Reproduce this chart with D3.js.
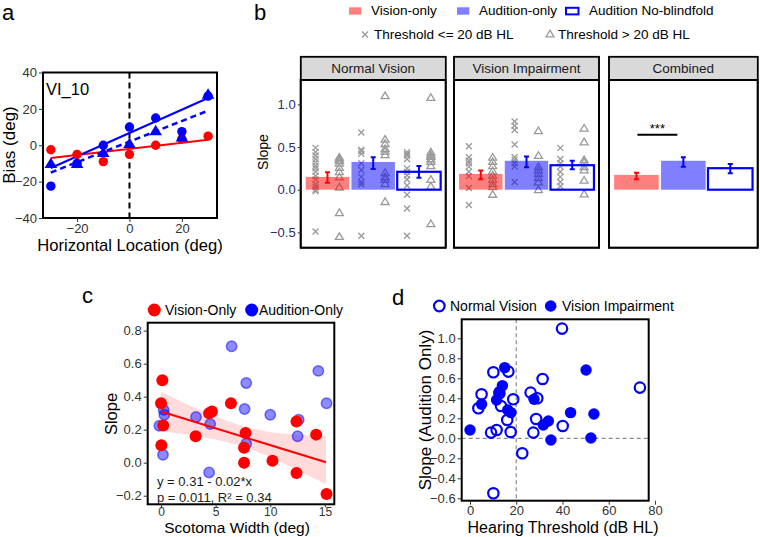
<!DOCTYPE html>
<html><head><meta charset="utf-8">
<script src="https://cdn.jsdelivr.net/npm/d3@7"></script>
<style>
body{margin:0;background:#fff;}
svg{font-family:"Liberation Sans",Arial,sans-serif;display:block;}
</style></head><body>
<svg id="chart" width="760" height="537"></svg>
<script>
// ---------------- Panel a data ----------------
const aLocations = [-30, -20, -10, 0, 10, 20, 30];
const aVisionBias = [-2.5, -5, -9, -5, 0, 3.5, 5];
const aAuditionBias = [-22.5, -10, 0, 10, 15, 7.5, 27];
const aNoBlindfoldBias = [-10, -10, -4, 1, 8, 4.5, 28];
const aFitEnds = [-30, 30];
const aVisionFit = [-7, 3];
const aAuditionFit = [-12.5, 26];
const aNoBlindfoldFit = [-15, 19];
const aXTicks = [-20, 0, 20];
const aYTicks = [-40, -20, 0, 20, 40];

// ---------------- Panel b data ----------------
const bFacets = ["Normal Vision", "Vision Impairment", "Combined"];
const bConditions = ["Vision-only", "Audition-only", "Audition No-blindfold"];
const bYTicks = [-0.5, 0, 0.5, 1.0];
const nvMeans = [0.15, 0.325, 0.21];
const nvErrLow = [0.082, 0.243, 0.14];
const nvErrHigh = [0.204, 0.38, 0.278];
const viMeans = [0.185, 0.339, 0.287];
const viErrLow = [0.122, 0.264, 0.24];
const viErrHigh = [0.224, 0.39, 0.339];
const cbMeans = [0.173, 0.339, 0.252];
const cbErrLow = [0.122, 0.27, 0.193];
const cbErrHigh = [0.2, 0.38, 0.3];
// individual slopes: "Low" = threshold <= 20 dB HL (crosses), "High" = > 20 dB HL (triangles)
const nvVisionLow = [0.49, 0.44, 0.40, 0.36, 0.32, 0.28, 0.25, 0.21, 0.16, 0.12, 0.06, 0.03, 0.0, -0.02, -0.49];
const nvVisionHigh = [0.38, 0.36, 0.34, 0.31, 0.26, 0.21, 0.15, 0.03, -0.27, -0.55];
const nvAuditionLow = [0.67, 0.47, 0.45, 0.42, 0.31, 0.23, 0.15, 0.09, 0.06, -0.54];
const nvAuditionHigh = [1.1, 0.59, 0.54, 0.48, 0.45, 0.41, 0.2, 0.15, 0.12, 0.07, -0.14];
const nvNoBlindLow = [0.44, 0.42, 0.40, 0.36, 0.25, 0.21, 0.17, 0.12, 0.05, -0.06, -0.22, -0.54];
const nvNoBlindHigh = [1.08, 0.44, 0.41, 0.39, 0.36, 0.33, 0.28, 0.12, 0.04, -0.4];
const viVisionLow = [0.51, 0.38, 0.34, 0.31, 0.27, 0.21, 0.16, 0.02, -0.18];
const viVisionHigh = [0.38, 0.33, 0.28, 0.22, 0.17, 0.12, 0.07, 0.035, -0.055];
const viAuditionLow = [0.80, 0.75, 0.70, 0.53, 0.38, 0.35, 0.31, 0.27, 0.09];
const viAuditionHigh = [0.69, 0.40, 0.27, 0.23, 0.19, 0.14, 0.09, 0.0];
const viNoBlindLow = [0.49, 0.36, 0.31, 0.27, 0.21, 0.15, 0.09, 0.04];
const viNoBlindHigh = [0.72, 0.56, 0.35, 0.32, 0.27, 0.23, 0.11, -0.05];
const bSignif = "***";
const bSignifValue = 0.645;

// ---------------- Panel c data ----------------
const cVisionX = [0.12, 0, 0.2, 0.03, 3.17, 4.4, 4.66, 6.4, 7.74, 7.6, 7.6, 10.2, 12.4, 12.4, 14.2, 15.15];
const cVisionY = [0.50, 0.36, 0.226, 0.105, 0.16, 0.30, 0.31, 0.36, 0.18, 0.09, 0.0, 0.012, 0.25, -0.063, 0.17, -0.19];
const cAuditionX = [6.46, 14.4, 7.8, 15.15, 0.24, 0.3, 3.2, 7.65, 10.0, 4.5, -0.15, 12.6, 12.5, 7.8, 0.18, 4.4];
const cAuditionY = [0.705, 0.556, 0.483, 0.36, 0.32, 0.29, 0.277, 0.325, 0.29, 0.234, 0.224, 0.26, 0.16, 0.115, 0.048, -0.059];
const cFitX = [0, 15.1];
const cFitY = [0.31, 0.003];
const cBandX = [0, 2.5, 5, 7.5, 10, 12.5, 15.1];
const cBandUpper = [0.43, 0.35, 0.28, 0.22, 0.185, 0.17, 0.16];
const cBandLower = [0.19, 0.17, 0.14, 0.10, 0.035, -0.045, -0.13];
const cXTicks = [0, 5, 10, 15];
const cYTicks = [-0.2, 0, 0.2, 0.4, 0.6, 0.8];
const cEquation = ["y = 0.31 - 0.02*x", "p = 0.011, R\u00B2 = 0.34"];

// ---------------- Panel d data ----------------
const dNormalX = [39.8, 73.5, 10.1, 16.6, 31.4, 5.0, 3.6, 26.2, 29.1, 18.7, 12.7, 13.4, 16.1, 28.6, 40.1, 9.1, 11.5, 17.6, 27.4, 22.6, 10.1];
const dNormalY = [1.097, 0.507, 0.66, 0.667, 0.593, 0.44, 0.30, 0.457, 0.40, 0.39, 0.45, 0.323, 0.183, 0.193, 0.123, 0.057, 0.083, 0.063, 0.057, -0.15, -0.55];
const dImpairX = [15.0, 50.2, 14.0, 12.7, 11.5, 27.7, 5.0, 16.3, 17.7, 43.5, 53.6, 0, 31.7, 33.9, 35.0, 52.3];
const dImpairY = [0.707, 0.683, 0.527, 0.467, 0.383, 0.39, 0.34, 0.283, 0.257, 0.257, 0.243, 0.083, 0.133, 0.173, -0.017, 0.003];
const dXTicks = [0, 20, 40, 60, 80];
const dYTicks = [-0.6, -0.4, -0.2, 0, 0.2, 0.4, 0.6, 0.8, 1.0];
const dVLine = 20, dHLine = 0;

// ---------------- helpers ----------------
const svg = d3.select("#chart");
const RED = "#ff0000", BLUE = "#0000ff", GRAY = "#9a9a9a";
const fmtNum = dec => d => (d < 0 ? "\u2212" : "") + Math.abs(d).toFixed(dec);

function styleAxis(g, color, size) {
  g.select(".domain").remove();
  g.selectAll(".tick line").attr("stroke", "#333").attr("stroke-width", 1);
  g.selectAll(".tick text").attr("fill", color || "#333").attr("font-size", size || 13)
    .attr("font-family", '"Liberation Sans",Arial,sans-serif');
}
function box(g, x, y, w, h, sw) {
  g.append("rect").attr("x", x).attr("y", y).attr("width", w).attr("height", h)
    .attr("fill", "none").attr("stroke", "#000").attr("stroke-width", sw || 2);
}
function label(txt, x, y, size, opts) {
  const t = svg.append("text").attr("x", x).attr("y", y).attr("font-size", size).attr("fill", "#000").text(txt);
  if (opts && opts.anchor) t.attr("text-anchor", opts.anchor);
  if (opts && opts.rotate) t.attr("transform", `rotate(-90,${x},${y})`);
  return t;
}
const triPath = s => `M0,${-s}L${s * 1.05},${s * 0.75}L${-s * 1.05},${s * 0.75}Z`;
const crossPath = s => `M${-s},${-s}L${s},${s}M${-s},${s}L${s},${-s}`;

// ================= Panel a =================
{
  const g = svg.append("g");
  const x = d3.scaleLinear().domain([-33, 33.4]).range([43, 217]);
  const y = d3.scaleLinear().domain([-40, 40]).range([218, 72.5]);
  g.append("line").attr("x1", x(0)).attr("x2", x(0)).attr("y1", y(40)).attr("y2", y(-40))
    .attr("stroke", "#000").attr("stroke-width", 2).attr("stroke-dasharray", "6,4");
  const line = d3.line().x(d => x(d[0])).y(d => y(d[1]));
  g.append("path").attr("d", line(d3.zip(aFitEnds, aVisionFit))).attr("stroke", RED).attr("stroke-width", 2).attr("fill", "none");
  g.append("path").attr("d", line(d3.zip(aFitEnds, aAuditionFit))).attr("stroke", BLUE).attr("stroke-width", 2).attr("fill", "none");
  g.append("path").attr("d", line(d3.zip(aFitEnds, aNoBlindfoldFit))).attr("stroke", BLUE).attr("stroke-width", 2.5)
    .attr("stroke-dasharray", "6,4").attr("fill", "none");
  g.selectAll(".ra").data(d3.zip(aLocations, aVisionBias)).join("circle")
    .attr("cx", d => x(d[0])).attr("cy", d => y(d[1])).attr("r", 4.7).attr("fill", RED);
  g.selectAll(".ba").data(d3.zip(aLocations, aAuditionBias)).join("circle")
    .attr("cx", d => x(d[0])).attr("cy", d => y(d[1])).attr("r", 4.7).attr("fill", BLUE);
  g.selectAll(".ta").data(d3.zip(aLocations, aNoBlindfoldBias)).join("path")
    .attr("transform", d => `translate(${x(d[0])},${y(d[1])})`).attr("d", triPath(6)).attr("fill", BLUE);
  box(g, 43, 72.5, 174, 145.5, 2);
  g.append("g").attr("transform", "translate(43,0)")
    .call(d3.axisLeft(y).tickValues(aYTicks).tickSize(4).tickPadding(2).tickFormat(fmtNum(0))).call(a => styleAxis(a));
  g.append("g").attr("transform", "translate(0,218)")
    .call(d3.axisBottom(x).tickValues(aXTicks).tickSize(4).tickPadding(2).tickFormat(fmtNum(0))).call(a => styleAxis(a));
  label("VI_10", 46, 95, 16.5);
  label("Horizontal Location (deg)", 130, 251, 16.6, { anchor: "middle" });
  label("Bias (deg)", 15, 145, 17, { anchor: "middle", rotate: true });
  label("a", 2, 20, 22);
}

// ================= Panel b =================
{
  const y = d3.scaleLinear().domain([-0.68, 1.286]).range([247.7, 80]);
  const panels = [
    { L: 300.7, R: 445.7, means: nvMeans, lo: nvErrLow, hi: nvErrHigh,
      pts: [[nvVisionLow, nvVisionHigh], [nvAuditionLow, nvAuditionHigh], [nvNoBlindLow, nvNoBlindHigh]] },
    { L: 454, R: 599, means: viMeans, lo: viErrLow, hi: viErrHigh,
      pts: [[viVisionLow, viVisionHigh], [viAuditionLow, viAuditionHigh], [viNoBlindLow, viNoBlindHigh]] },
    { L: 609, R: 757.7, means: cbMeans, lo: cbErrLow, hi: cbErrHigh, pts: null }
  ];
  const stripTop = 56.7, stripBot = 80, panelBot = 247.7;
  panels.forEach((p, i) => {
    const g = svg.append("g");
    const x = d3.scaleBand().domain(bConditions).range([p.L, p.R]).paddingInner(0.05).paddingOuter(0.11);
    const cx = c => x(c) + x.bandwidth() / 2;
    const off = x.step() * 0.26;
    g.append("rect").attr("x", p.L).attr("y", stripTop).attr("width", p.R - p.L).attr("height", stripBot - stripTop)
      .attr("fill", "#d9d9d9").attr("stroke", "#000").attr("stroke-width", 1.5);
    g.append("text").attr("x", (p.L + p.R) / 2).attr("y", (stripTop + stripBot) / 2 + 5).attr("text-anchor", "middle")
      .attr("font-size", 13.5).attr("fill", "#1a1a1a").text(bFacets[i]);
    if (p.pts) {
      bConditions.forEach((c, j) => {
        g.selectAll(null).data(p.pts[j][0]).join("path")
          .attr("transform", d => `translate(${cx(c) - off},${y(d)})`).attr("d", crossPath(3))
          .attr("stroke", GRAY).attr("stroke-width", 1.3).attr("fill", "none");
        g.selectAll(null).data(p.pts[j][1]).join("path")
          .attr("transform", d => `translate(${cx(c) + off},${y(d)})`).attr("d", triPath(3.8))
          .attr("stroke", GRAY).attr("stroke-width", 1.3).attr("fill", "none");
      });
    }
    g.selectAll(null).data(bConditions).join("rect")
      .attr("x", d => x(d)).attr("width", x.bandwidth())
      .attr("y", (d, j) => y(p.means[j])).attr("height", (d, j) => y(0) - y(p.means[j]))
      .attr("fill", (d, j) => j === 0 ? RED : j === 1 ? BLUE : "none")
      .attr("fill-opacity", 0.5)
      .attr("stroke", (d, j) => j === 2 ? BLUE : "none").attr("stroke-width", 2.2);
    bConditions.forEach((c, j) => {
      const col = j === 0 ? RED : BLUE;
      const xc = cx(c);
      g.append("path").attr("d", `M${xc},${y(p.lo[j])}L${xc},${y(p.hi[j])}M${xc - 2.5},${y(p.lo[j])}L${xc + 2.5},${y(p.lo[j])}M${xc - 2.5},${y(p.hi[j])}L${xc + 2.5},${y(p.hi[j])}`)
        .attr("stroke", col).attr("stroke-width", 2).attr("fill", "none");
    });
    if (i === 2) {
      const x1 = cx(bConditions[0]) + 1, x2 = cx(bConditions[1]) - 6;
      g.append("line").attr("x1", x1).attr("x2", x2).attr("y1", y(bSignifValue)).attr("y2", y(bSignifValue))
        .attr("stroke", "#000").attr("stroke-width", 2);
      g.append("text").attr("x", (x1 + x2) / 2).attr("y", y(bSignifValue) - 2).attr("text-anchor", "middle")
        .attr("font-size", 13).text(bSignif);
    }
    box(g, p.L, stripBot, p.R - p.L, panelBot - stripBot, 2);
    g.append("rect").attr("x", p.L).attr("y", stripTop).attr("width", p.R - p.L).attr("height", panelBot - stripTop)
      .attr("fill", "none").attr("stroke", "#000").attr("stroke-width", 1.5);
    if (i === 0) {
      g.append("g").attr("transform", `translate(${p.L},0)`)
        .call(d3.axisLeft(y).tickValues(bYTicks).tickSize(3).tickPadding(2).tickFormat(fmtNum(1)))
        .call(a => styleAxis(a, "#2a2a6e"));
    }
  });
  label("Slope", 268, 152, 14, { anchor: "middle", rotate: true });
  label("b", 254, 20, 22);
  const lg = svg.append("g").attr("font-size", 13.5);
  lg.append("rect").attr("x", 349).attr("y", 7.3).attr("width", 12.3).attr("height", 7.4).attr("fill", RED).attr("fill-opacity", 0.5);
  lg.append("text").attr("x", 371).attr("y", 15).text(bConditions[0]);
  lg.append("rect").attr("x", 457).attr("y", 7.3).attr("width", 12.3).attr("height", 7.4).attr("fill", BLUE).attr("fill-opacity", 0.5);
  lg.append("text").attr("x", 479).attr("y", 15).text(bConditions[1]);
  lg.append("rect").attr("x", 566).attr("y", 7.8).attr("width", 12.5).attr("height", 6.6).attr("fill", "none").attr("stroke", BLUE).attr("stroke-width", 2);
  lg.append("text").attr("x", 589).attr("y", 15).text(bConditions[2]);
  lg.append("path").attr("transform", "translate(365,34.5)").attr("d", crossPath(3)).attr("stroke", GRAY).attr("stroke-width", 1.3);
  lg.append("text").attr("x", 374).attr("y", 39).text("Threshold <= 20 dB HL");
  lg.append("path").attr("transform", "translate(550,34)").attr("d", triPath(3.8)).attr("stroke", GRAY).attr("stroke-width", 1.3).attr("fill", "none");
  lg.append("text").attr("x", 558).attr("y", 39).text("Threshold > 20 dB HL");
}

// ================= Panel c =================
{
  const g = svg.append("g");
  const L = 147.7, R = 334.3, T = 322.7, B = 504.3;
  const x = d3.scaleLinear().domain([-1.22, 15.86]).range([L, R]);
  const y = d3.scaleLinear().domain([-0.252, 0.848]).range([B, T]);
  const area = d3.area().x(d => x(d[0])).y0(d => y(d[2])).y1(d => y(d[1]));
  g.append("path").attr("d", area(d3.zip(cBandX, cBandUpper, cBandLower))).attr("fill", RED).attr("fill-opacity", 0.14);
  g.selectAll(null).data(d3.zip(cAuditionX, cAuditionY)).join("circle")
    .attr("cx", d => x(d[0])).attr("cy", d => y(d[1])).attr("r", 5.2)
    .attr("fill", BLUE).attr("fill-opacity", 0.45).attr("stroke", BLUE).attr("stroke-opacity", 0.5).attr("stroke-width", 1.5);
  g.selectAll(null).data(d3.zip(cVisionX, cVisionY)).join("circle")
    .attr("cx", d => x(d[0])).attr("cy", d => y(d[1])).attr("r", 6).attr("fill", RED);
  g.append("path").attr("d", d3.line().x(d => x(d[0])).y(d => y(d[1]))(d3.zip(cFitX, cFitY)))
    .attr("stroke", RED).attr("stroke-width", 2).attr("fill", "none");
  g.append("text").attr("x", 157).attr("y", 486).attr("font-size", 13).attr("fill", "#1a1a1a").text(cEquation[0]);
  g.append("text").attr("x", 157).attr("y", 502).attr("font-size", 13).attr("fill", "#1a1a1a").text(cEquation[1]);
  box(g, L, T, R - L, B - T, 2);
  g.append("g").attr("transform", `translate(${L},0)`)
    .call(d3.axisLeft(y).tickValues(cYTicks).tickSize(4).tickPadding(2).tickFormat(fmtNum(1))).call(a => styleAxis(a));
  g.append("g").attr("transform", `translate(0,${B})`)
    .call(d3.axisBottom(x).tickValues(cXTicks).tickSize(3).tickPadding(0).tickFormat(fmtNum(0))).call(a => styleAxis(a, "#333", 12));
  label("Slope", 117, 414, 16.5, { anchor: "middle", rotate: true });
  label("Scotoma Width (deg)", 237, 533, 15.5, { anchor: "middle" });
  label("c", 82, 303, 22);
  g.append("circle").attr("cx", 154.3).attr("cy", 310).attr("r", 6.5).attr("fill", RED);
  g.append("text").attr("x", 165).attr("y", 315).attr("font-size", 14).text("Vision-Only");
  g.append("circle").attr("cx", 251.7).attr("cy", 310).attr("r", 6.5).attr("fill", BLUE);
  g.append("text").attr("x", 259).attr("y", 315).attr("font-size", 14).text("Audition-Only");
}

// ================= Panel d =================
{
  const g = svg.append("g");
  const L = 461.7, R = 648.7, T = 319.3, B = 500.7;
  const x = d3.scaleLinear().domain([-3.6, 77.3]).range([L, R]);
  const y = d3.scaleLinear().domain([-0.624, 1.19]).range([B, T]);
  g.append("line").attr("x1", x(dVLine)).attr("x2", x(dVLine)).attr("y1", T).attr("y2", B)
    .attr("stroke", "#8c8c8c").attr("stroke-width", 1.2).attr("stroke-dasharray", "4,3");
  g.append("line").attr("x1", L).attr("x2", R).attr("y1", y(dHLine)).attr("y2", y(dHLine))
    .attr("stroke", "#8c8c8c").attr("stroke-width", 1.2).attr("stroke-dasharray", "4,3");
  g.selectAll(null).data(d3.zip(dNormalX, dNormalY)).join("circle")
    .attr("cx", d => x(d[0])).attr("cy", d => y(d[1])).attr("r", 5.2)
    .attr("fill", "none").attr("stroke", BLUE).attr("stroke-width", 2.2);
  g.selectAll(null).data(d3.zip(dImpairX, dImpairY)).join("circle")
    .attr("cx", d => x(d[0])).attr("cy", d => y(d[1])).attr("r", 5.7).attr("fill", BLUE);
  box(g, L, T, R - L, B - T, 2);
  g.append("g").attr("transform", `translate(${L},0)`)
    .call(d3.axisLeft(y).tickValues(dYTicks).tickSize(4).tickPadding(2).tickFormat(fmtNum(1))).call(a => styleAxis(a));
  g.append("g").attr("transform", `translate(0,${B})`)
    .call(d3.axisBottom(x).tickValues(dXTicks).tickSize(4).tickPadding(1).tickFormat(fmtNum(0))).call(a => styleAxis(a));
  label("Slope (Audition Only)", 431, 410, 17, { anchor: "middle", rotate: true });
  label("Hearing Threshold (dB HL)", 563, 533, 16, { anchor: "middle" });
  label("d", 392, 305, 22);
  g.append("circle").attr("cx", 439.3).attr("cy", 306).attr("r", 5.3).attr("fill", "none").attr("stroke", BLUE).attr("stroke-width", 2.2);
  g.append("text").attr("x", 450).attr("y", 311).attr("font-size", 14).text("Normal Vision");
  g.append("circle").attr("cx", 550.7).attr("cy", 306).attr("r", 5.8).attr("fill", BLUE);
  g.append("text").attr("x", 562).attr("y", 311).attr("font-size", 14).text("Vision Impairment");
}
</script>
</body></html>
